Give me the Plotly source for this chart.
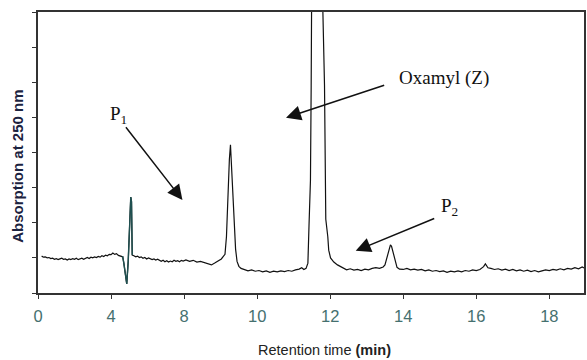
import numpy as np
import plotly.graph_objects as go

# ---- tick labels (retention time, min) as printed on the x axis ----
TICK_TIMES = [0, 4, 8, 10, 12, 14, 16, 18]
# axis keeps the printed label spacing (equal spacing between labels)
SCALE_TIMES = TICK_TIMES + [20]

# ---- chromatogram trace (time in min, absorbance in tick units) ----
time_min = [
    0.20, 0.30, 0.40, 0.50, 0.60, 0.70, 0.80, 0.90, 1.00, 1.10, 1.20, 1.30, 1.40, 1.50,
    1.60, 1.70, 1.80, 1.90, 2.00, 2.10, 2.20, 2.30, 2.40, 2.50, 2.60, 2.70, 2.80, 2.90,
    3.00, 3.10, 3.20, 3.30, 3.40, 3.50, 3.60, 3.70, 3.80, 3.90, 4.00, 4.10, 4.20, 4.30,
    4.40, 4.50, 4.60, 4.64, 4.70, 4.78, 4.86, 4.94, 5.00, 5.08, 5.12, 5.16,
    5.25, 5.35, 5.45, 5.55, 5.65, 5.75, 5.85, 5.95, 6.05, 6.15, 6.25, 6.35, 6.45, 6.55,
    6.65, 6.75, 6.85, 6.95, 7.05, 7.15, 7.25, 7.35, 7.45, 7.55, 7.65, 7.75, 7.85, 7.95,
    8.05, 8.15, 8.25, 8.35, 8.45, 8.55, 8.65, 8.75, 8.85, 8.95, 9.02, 9.08, 9.12,
    9.16, 9.20, 9.24, 9.27, 9.30, 9.33, 9.37, 9.41, 9.45, 9.50, 9.56,
    9.65, 9.75, 9.85, 9.95, 10.05, 10.15, 10.25, 10.35, 10.45, 10.55, 10.65, 10.75,
    10.85, 10.95, 11.05, 11.15, 11.22, 11.28, 11.34, 11.39, 11.42, 11.46, 11.48,
    11.51, 11.56, 11.61, 11.654, 11.70, 11.75, 11.79, 11.845, 11.88, 11.935, 11.96,
    12.01, 12.10, 12.20, 12.30, 12.38, 12.45, 12.55, 12.65, 12.75, 12.85, 12.95,
    13.05, 13.15, 13.25, 13.35, 13.45, 13.50, 13.55, 13.60, 13.65, 13.68, 13.73,
    13.78, 13.83, 13.90, 14.00, 14.10, 14.20, 14.30, 14.40, 14.50, 14.60, 14.70,
    14.80, 14.90, 15.00, 15.10, 15.20, 15.30, 15.40, 15.50, 15.60, 15.70, 15.80,
    15.90, 16.00, 16.10, 16.20, 16.25, 16.32, 16.40, 16.50, 16.60, 16.70, 16.80,
    16.90, 17.00, 17.10, 17.20, 17.30, 17.40, 17.50, 17.60, 17.70, 17.80, 17.90,
    18.00, 18.10, 18.20, 18.30, 18.40, 18.50, 18.60, 18.70, 18.80, 18.90, 18.95,
]
absorbance = [
    1.05, 1.02, 1.03, 1.00, 1.01, 0.98, 0.99, 0.96, 0.98, 0.95, 0.97, 0.99, 0.96, 0.97,
    0.94, 0.97, 0.95, 0.98, 0.96, 0.99, 0.95, 0.97, 0.99, 0.96, 0.98, 1.01, 0.98, 1.02,
    1.00, 1.03, 1.01, 1.04, 1.02, 1.06, 1.04, 1.08, 1.06, 1.10, 1.09, 1.14, 1.10, 1.12,
    1.07, 1.05, 1.03, 1.03, 0.85, 0.50, 0.26, 0.90, 2.00, 2.73, 2.60, 1.08,
    1.06, 1.03, 1.05, 1.01, 1.03, 0.99, 1.01, 0.97, 1.00, 0.98, 0.95, 0.97, 0.94, 0.96,
    0.93, 0.90, 0.93, 0.89, 0.92, 0.88, 0.91, 0.89, 0.93, 0.90, 0.92, 0.89, 0.93, 0.91,
    0.94, 0.90, 0.93, 0.88, 0.90, 0.86, 0.83, 0.80, 0.86, 0.92, 0.97, 1.05, 1.10,
    1.60, 2.80, 3.80, 4.22, 3.60, 2.70, 1.80, 1.25, 0.90, 0.76, 0.70,
    0.67, 0.63, 0.66, 0.62, 0.64, 0.60, 0.63, 0.59, 0.62, 0.60, 0.63, 0.61,
    0.64, 0.62, 0.66, 0.68, 0.72, 0.67, 0.70, 0.85, 1.90, 3.20, 5.90,
    8.50, 20.0, 35.0, 41.0, 35.0, 20.0, 8.50, 5.90, 2.10, 1.60, 1.22,
    1.00, 0.88, 0.80, 0.74, 0.70, 0.66, 0.69, 0.65, 0.67, 0.64, 0.68,
    0.66, 0.70, 0.72, 0.70, 0.74, 0.80, 1.00, 1.25, 1.37, 1.33, 1.10,
    0.88, 0.73, 0.68, 0.67, 0.70, 0.66, 0.68, 0.65, 0.67, 0.63, 0.66,
    0.62, 0.64, 0.61, 0.63, 0.59, 0.62, 0.60, 0.63, 0.60, 0.64, 0.62,
    0.66, 0.64, 0.67, 0.75, 0.83, 0.72, 0.70, 0.67, 0.69, 0.65, 0.68,
    0.64, 0.67, 0.63, 0.66, 0.62, 0.65, 0.61, 0.64, 0.60, 0.63, 0.66,
    0.64, 0.67, 0.65, 0.69, 0.66, 0.70, 0.68, 0.72, 0.69, 0.74, 0.71,
]
# solvent-front disturbance drawn in dark teal
spike_window = [4.60, 5.18]

# ---- annotation labels: text, label position, arrow tail and arrow tip (time, y) ----
labels = ["P<sub>1</sub>", "Oxamyl (Z)", "P<sub>2</sub>"]
label_t = [4.39, 15.11, 15.27]
label_y = [5.07, 6.12, 2.45]
tail_t = [4.75, 13.52, 14.89]
tail_y = [4.76, 5.93, 2.14]
tip_t = [7.91, 10.79, 12.70]
tip_y = [2.65, 4.99, 1.20]


def pos(t):
    return np.interp(np.asarray(t, dtype=float), SCALE_TIMES, np.arange(len(SCALE_TIMES)))


t_arr = np.array(time_min)
a_arr = np.array(absorbance)
mask = (t_arr >= spike_window[0]) & (t_arr <= spike_window[1])

fig = go.Figure()
fig.add_trace(go.Scatter(x=pos(t_arr), y=a_arr, mode="lines",
                         line=dict(color="#111111", width=1.2), showlegend=False))
fig.add_trace(go.Scatter(x=pos(t_arr[mask]), y=a_arr[mask], mode="lines",
                         line=dict(color="#1f5050", width=1.4), showlegend=False))

serif = "Liberation Serif, Times New Roman, serif"
sans = "Liberation Sans, Arial, sans-serif"

annotations = []
for i, txt in enumerate(labels):
    annotations.append(dict(x=float(pos(label_t[i])), y=label_y[i], xref="x", yref="y",
                            text=txt, showarrow=False,
                            font=dict(family=serif, size=19, color="#111111")))
    annotations.append(dict(x=float(pos(tip_t[i])), y=tip_y[i], xref="x", yref="y",
                            ax=float(pos(tail_t[i])), ay=tail_y[i], axref="x", ayref="y",
                            text="", showarrow=True, arrowhead=2, arrowsize=2.0,
                            arrowwidth=1.5, arrowcolor="#111111", standoff=0))

annotations.append(dict(x=0.524, y=-0.203, xref="paper", yref="paper",
                        text="Retention time <b>(min)</b>", showarrow=False,
                        xanchor="center", yanchor="middle",
                        font=dict(family=sans, size=14.5, color="#222222")))
annotations.append(dict(x=-0.038, y=0.45, xref="paper", yref="paper",
                        text="<b>Absorption at 250 nm</b>", showarrow=False, textangle=-90,
                        xanchor="center", yanchor="middle",
                        font=dict(family=sans, size=15, color="#1c2340")))

fig.update_layout(
    width=587, height=360,
    margin=dict(l=38, r=1, t=12, b=67),
    paper_bgcolor="white", plot_bgcolor="white",
    showlegend=False,
    annotations=annotations,
    xaxis=dict(range=[0, float(pos(18.95))],
               tickvals=[float(p) for p in pos(TICK_TIMES)],
               ticktext=[str(t) for t in TICK_TIMES],
               ticks="outside", ticklen=4, tickwidth=1, tickcolor="#333333",
               showline=True, linecolor="#333333", linewidth=1.5, mirror=True,
               showgrid=False, zeroline=False, ticklabelstandoff=3,
               tickfont=dict(family=sans, size=16.5, color="#45706f")),
    yaxis=dict(range=[0, 8], tickvals=list(range(0, 9)), showticklabels=False,
               ticks="outside", ticklen=4, tickwidth=1, tickcolor="#333333",
               showline=True, linecolor="#333333", linewidth=1.5, mirror=True,
               showgrid=False, zeroline=False),
)

fig.write_html("out.html")
